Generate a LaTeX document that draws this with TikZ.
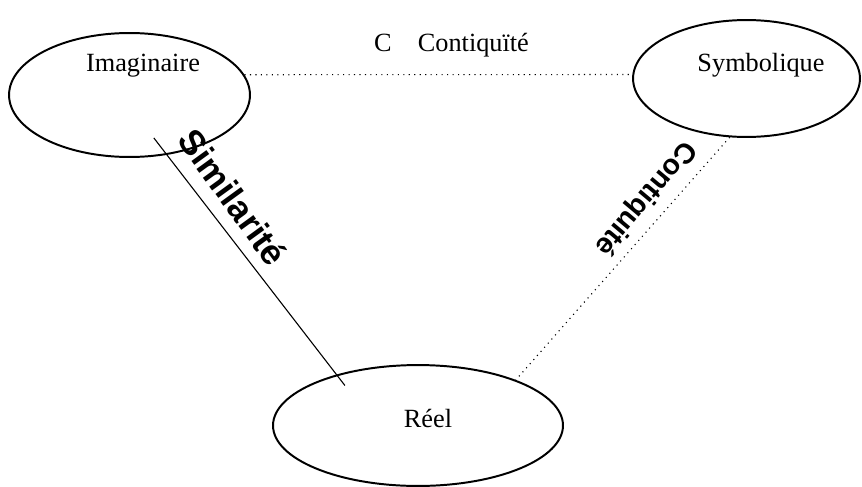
\documentclass[tikz,border=0pt]{standalone}
\usepackage{fontspec}
\setmainfont{Liberation Serif}
\newfontfamily\labelfont{Liberation Sans}
\usetikzlibrary{shapes.geometric}
\tikzset{
  realm/.style={draw,ellipse,line width=0.9pt,inner sep=0pt},
  realm text/.style={font=\fontsize{12}{14}\selectfont,inner sep=0pt},
  link/.style={line width=0.5pt},
  link dotted/.style={link,dotted},
  tag/.style={inner sep=0pt}
}
\begin{document}
\begin{tikzpicture}[x=0.4566pt,y=-0.4566pt]
  \useasboundingbox (0,0) rectangle (862,486);
  % Draw the three realms
  \node[realm,minimum width=110pt,minimum height=56.6pt] (imag) at (129.5,95) {};
  \node[realm,minimum width=103.6pt,minimum height=53.4pt] (symb) at (746.5,78.5) {};
  \node[realm,minimum width=132.4pt,minimum height=55.2pt] (reel) at (418,425.5) {};
  % Names sit high in the ellipses
  \node[realm text] (imag_t) at (143,66) {Imaginaire};
  \node[realm text] (symb_t) at (761,65) {Symbolique};
  \node[realm text] (reel_t) at (428,418) {Réel};
  % Connections between realms
  \draw[link dotted] (imag.10) -- (symb.178);
  \draw[link,shorten <=-9.8pt,shorten >=-6.3pt] (imag.-58) -- (reel.148);
  \draw[link dotted] (symb.254) -- (reel.25);
  % Labels
  \node[realm text] (top_tag) at (451.5,45) {C\quad Contiquïté};
  \node[tag,font=\labelfont\bfseries\fontsize{16}{19}\selectfont,rotate=-54] (sim_tag) at (233,197) {Similarité};
  \node[tag,font=\labelfont\bfseries\fontsize{13}{16}\selectfont,rotate=230] (cont_tag) at (645,198) {Contiquité};
\end{tikzpicture}
\end{document}
